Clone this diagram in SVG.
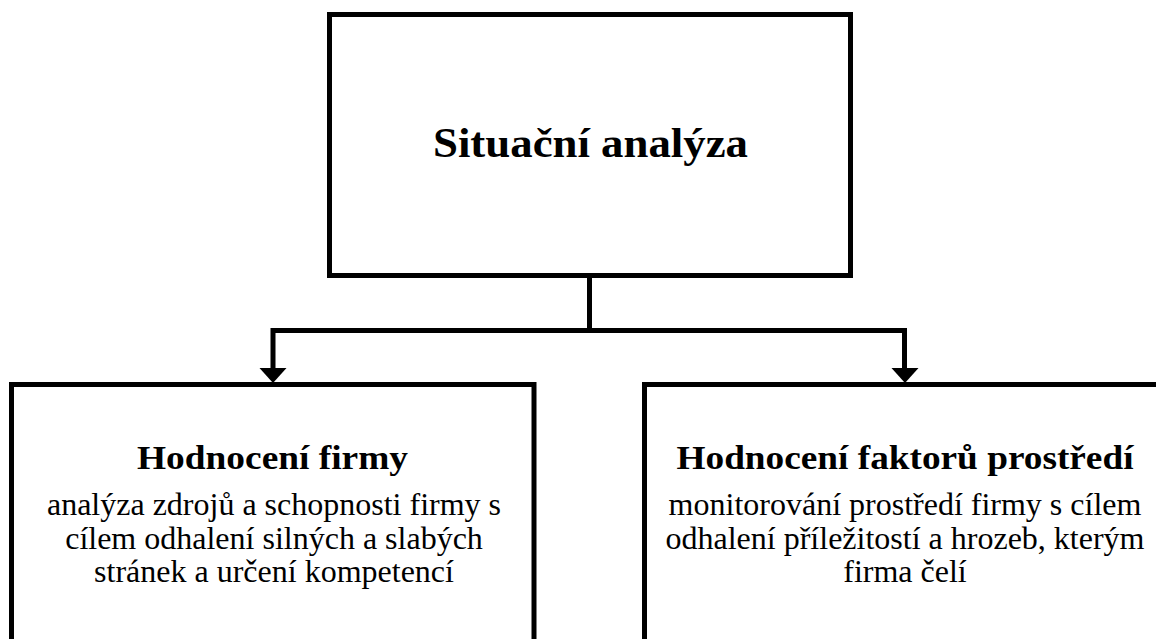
<svg xmlns="http://www.w3.org/2000/svg" width="1156" height="639" viewBox="0 0 1156 639">
<style>
.box{fill:#fff;stroke:#000;stroke-width:5;stroke-linejoin:miter}
.conn{fill:none;stroke:#000;stroke-width:5;stroke-linejoin:miter}
.t{font-family:"Liberation Serif","Times New Roman",serif;text-anchor:middle;fill:#000}
.main{font-size:42px;font-weight:bold}
.head{font-size:34px;font-weight:bold}
.body{font-size:32px}
</style>
<rect width="1156" height="639" fill="#fff"/>
<g id="node-situacni">
<rect class="box" x="329.5" y="14.5" width="521" height="261"/>
<text class="t main" x="590.5" y="157" textLength="315" lengthAdjust="spacingAndGlyphs">Situační analýza</text>
</g>
<g id="node-firma">
<rect class="box" x="11.5" y="384.5" width="522.5" height="300"/>
<text class="t head" x="272.5" y="469" textLength="271" lengthAdjust="spacingAndGlyphs">Hodnocení firmy</text>
<text class="t body" x="274" y="515">analýza zdrojů a schopnosti firmy s</text>
<text class="t body" x="274" y="548.5">cílem odhalení silných a slabých</text>
<text class="t body" x="274" y="582">stránek a určení kompetencí</text>
</g>
<g id="node-prostredi">
<rect class="box" x="644.5" y="384.5" width="540" height="300"/>
<text class="t head" x="905" y="469" textLength="457" lengthAdjust="spacingAndGlyphs">Hodnocení faktorů prostředí</text>
<text class="t body" x="905" y="515">monitorování prostředí firmy s cílem</text>
<text class="t body" x="905" y="548.5">odhalení příležitostí a hrozeb, kterým</text>
<text class="t body" x="905" y="582">firma čelí</text>
</g>
<g id="connectors">
<path class="conn" d="M589.5,276 V330.5 H273 V369"/>
<path class="conn" d="M589.5,330.5 H904.5 V369"/>
<path d="M259.5,368 L286.5,368 L273,383 Z" fill="#000"/>
<path d="M891.5,368 L918.5,368 L905,383 Z" fill="#000"/>
</g>
</svg>
